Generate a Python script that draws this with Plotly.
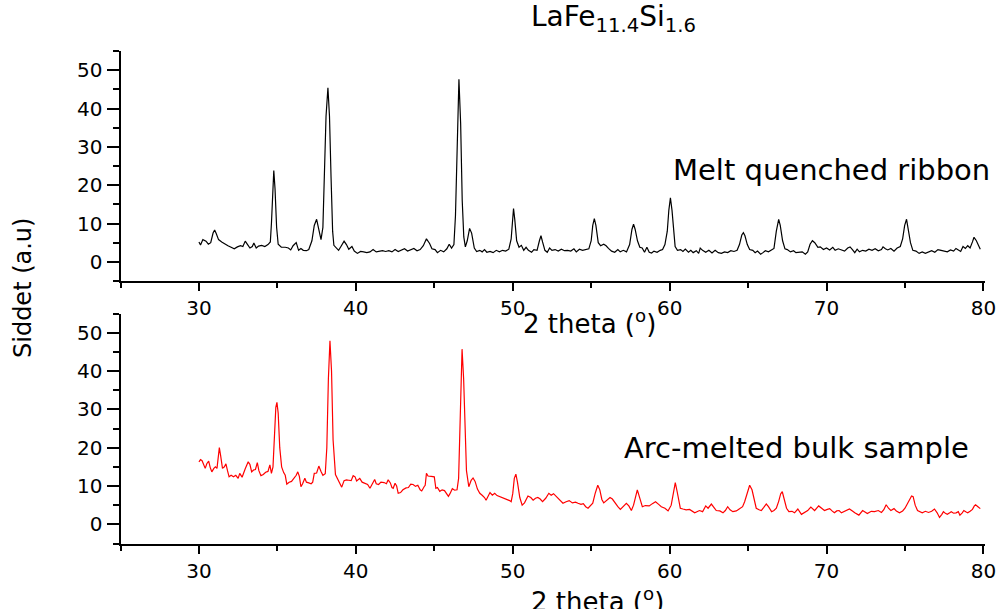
import plotly.graph_objects as go

# ---------------- data ----------------
ribbon_2theta = [
    30.0, 30.1, 30.25, 30.45, 30.6, 30.75, 30.9, 31.0, 31.1, 31.25, 31.45, 31.65, 31.85,
    32.05, 32.25, 32.45, 32.65, 32.8, 32.95, 33.1, 33.25, 33.4, 33.5, 33.65, 33.8, 34.0,
    34.2, 34.4, 34.55, 34.62, 34.7, 34.77, 34.85, 34.95, 35.05, 35.25, 35.5, 35.7, 35.85,
    36.0, 36.2, 36.35, 36.5, 36.65, 36.85, 37.0, 37.2, 37.35, 37.5, 37.62, 37.78, 37.9,
    38.0, 38.1, 38.22, 38.32, 38.42, 38.52, 38.6, 38.75, 38.9, 39.05, 39.25, 39.4, 39.55,
    39.75, 39.9, 40.1, 40.3, 40.5, 40.7, 40.9, 41.1, 41.3, 41.5, 41.7, 41.9, 42.1, 42.3,
    42.5, 42.7, 42.9, 43.1, 43.3, 43.5, 43.7, 43.9, 44.1, 44.3, 44.5, 44.7, 44.85, 45.05,
    45.2, 45.4, 45.6, 45.8, 45.95, 46.1, 46.25, 46.35, 46.46, 46.57, 46.68, 46.78, 46.88,
    46.98, 47.1, 47.25, 47.38, 47.55, 47.7, 47.9, 48.05, 48.2, 48.35, 48.55, 48.75, 48.95,
    49.15, 49.35, 49.55, 49.75, 49.9, 49.98, 50.05, 50.13, 50.25, 50.4, 50.55, 50.7, 50.85,
    51.0, 51.2, 51.35, 51.55, 51.7, 51.8, 51.9, 52.05, 52.2, 52.35, 52.5, 52.7, 52.9, 53.1,
    53.3, 53.5, 53.7, 53.9, 54.05, 54.25, 54.45, 54.65, 54.85, 55.0, 55.1, 55.2, 55.3,
    55.45, 55.6, 55.8, 55.95, 56.1, 56.3, 56.5, 56.7, 56.85, 57.05, 57.25, 57.45, 57.6,
    57.7, 57.8, 57.95, 58.1, 58.25, 58.4, 58.55, 58.7, 58.85, 59.0, 59.2, 59.4, 59.55,
    59.7, 59.85, 59.95, 60.05, 60.15, 60.25, 60.35, 60.5, 60.7, 60.85, 61.0, 61.2, 61.35,
    61.5, 61.7, 61.85, 61.95, 62.1, 62.3, 62.5, 62.7, 62.9, 63.1, 63.3, 63.5, 63.7, 63.9,
    64.1, 64.3, 64.45, 64.6, 64.7, 64.8, 64.95, 65.1, 65.3, 65.45, 65.6, 65.8, 65.95,
    66.1, 66.3, 66.5, 66.65, 66.8, 66.95, 67.05, 67.2, 67.35, 67.5, 67.7, 67.9, 68.05,
    68.25, 68.45, 68.65, 68.8, 68.95, 69.1, 69.25, 69.45, 69.6, 69.8, 70.0, 70.2, 70.4,
    70.55, 70.75, 70.95, 71.15, 71.35, 71.5, 71.65, 71.8, 71.95, 72.1, 72.3, 72.5, 72.7,
    72.9, 73.1, 73.3, 73.5, 73.6, 73.75, 73.9, 74.1, 74.3, 74.5, 74.7, 74.85, 74.98, 75.1,
    75.22, 75.35, 75.5, 75.7, 75.9, 76.1, 76.3, 76.5, 76.7, 76.9, 77.1, 77.3, 77.5, 77.7,
    77.9, 78.1, 78.25, 78.4, 78.55, 78.7, 78.85, 79.0, 79.15, 79.3, 79.4, 79.55, 79.65,
    79.8,
]
ribbon_intensity = [
    5.2, 4.4, 5.8, 5.4, 4.6, 5.0, 7.5, 8.3, 7.4, 5.8, 5.2, 4.6, 4.2,
    3.8, 3.4, 3.9, 4.2, 4.0, 5.4, 4.5, 3.6, 4.0, 4.9, 3.6, 4.1, 4.3,
    4.0, 4.5, 5.2, 10.0, 19.5, 23.8, 19.0, 9.0, 4.6, 3.8, 3.8, 3.6, 3.1,
    4.2, 5.0, 3.0, 3.5, 3.0, 2.9, 3.2, 5.5, 9.5, 11.1, 9.0, 5.8, 9.0,
    22.0, 38.0, 45.4, 38.0, 22.0, 8.0, 4.3, 3.6, 3.0, 4.0, 5.4, 4.5, 3.3,
    4.0, 2.8, 2.2, 2.7, 2.6, 2.4, 2.6, 3.2, 2.6, 2.8, 2.9, 2.7, 2.9, 2.6,
    3.2, 2.7, 3.0, 3.4, 2.8, 3.1, 3.5, 2.9, 3.2, 4.2, 6.0, 4.8, 3.4, 3.2,
    2.4, 3.0, 2.6, 3.4, 4.6, 3.6, 4.5, 12.0, 34.0, 47.6, 36.0, 16.0, 6.5,
    3.9, 5.5, 8.7, 7.5, 3.6, 2.7, 3.0, 2.6, 3.2, 2.5, 2.7, 2.4, 3.0,
    2.6, 3.0, 2.8, 3.3, 6.0, 11.5, 13.9, 11.0, 5.5, 3.8, 4.3, 3.0, 3.8,
    3.0, 2.5, 3.2, 3.0, 5.5, 6.8, 5.2, 3.0, 2.5, 3.6, 3.0, 3.2, 2.8, 3.3,
    2.9, 3.0, 2.8, 3.4, 2.6, 3.3, 3.0, 3.2, 3.4, 5.5, 9.5, 11.3, 9.5,
    5.0, 4.2, 4.6, 4.2, 3.5, 2.8, 2.5, 3.2, 2.6, 3.0, 2.6, 4.5, 8.5,
    9.8, 8.5, 5.5, 3.8, 3.6, 2.5, 3.8, 2.5, 2.3, 2.8, 2.5, 3.0, 3.2,
    4.5, 8.0, 13.5, 16.7, 13.5, 8.0, 4.0, 3.0, 3.2, 2.7, 3.3, 2.5, 3.0,
    2.4, 2.9, 2.2, 3.6, 3.0, 2.5, 3.0, 2.3, 3.0, 2.4, 2.2, 2.6, 2.4, 2.9,
    2.7, 3.0, 4.5, 7.0, 7.6, 6.8, 4.5, 3.2, 3.0, 2.4, 2.8, 2.0, 2.4,
    2.9, 2.6, 3.0, 3.5, 8.0, 11.1, 9.5, 5.5, 3.4, 3.2, 2.6, 2.9, 2.4,
    2.5, 2.6, 2.0, 2.6, 4.6, 5.5, 5.0, 3.8, 3.9, 3.2, 3.6, 3.1, 3.8,
    3.0, 3.4, 3.1, 2.8, 3.6, 3.9, 3.2, 2.4, 3.3, 2.6, 3.0, 2.8, 3.3,
    3.0, 3.4, 2.9, 3.2, 3.9, 3.4, 3.1, 3.5, 2.8, 3.6, 4.0, 6.0, 9.5, 11.1,
    8.5, 5.0, 3.0, 2.8, 2.2, 2.6, 2.2, 2.5, 2.9, 2.5, 3.2, 3.0, 2.8, 2.6,
    3.1, 2.8, 3.5, 3.0, 2.7, 4.0, 3.5, 4.2, 3.6, 5.2, 6.4, 5.5, 4.5,
    3.3,
]

bulk_2theta = [
    30.0, 30.1, 30.2, 30.3, 30.4, 30.5, 30.62, 30.72, 30.82, 30.95, 31.05, 31.15, 31.22,
    31.3, 31.38, 31.5, 31.62, 31.72, 31.82, 31.92, 32.05, 32.2, 32.35, 32.5, 32.6, 32.75,
    32.95, 33.14, 33.25, 33.36, 33.5, 33.6, 33.72, 33.82, 33.95, 34.1, 34.25, 34.4, 34.52,
    34.62, 34.72, 34.82, 34.9, 34.97, 35.05, 35.15, 35.27, 35.4, 35.5, 35.6, 35.75, 35.9,
    36.05, 36.2, 36.3, 36.4, 36.5, 36.6, 36.75, 36.85, 37.0, 37.15, 37.25, 37.35, 37.5,
    37.64, 37.78, 37.9, 38.05, 38.15, 38.25, 38.35, 38.45, 38.55, 38.7, 38.87, 39.0, 39.1,
    39.25, 39.4, 39.55, 39.7, 39.83, 39.95, 40.05, 40.15, 40.25, 40.4, 40.55, 40.75, 40.9,
    41.05, 41.2, 41.3, 41.45, 41.6, 41.8, 41.95, 42.06, 42.2, 42.3, 42.38, 42.5, 42.6, 42.7,
    42.85, 43.0, 43.2, 43.35, 43.5, 43.65, 43.8, 43.95, 44.1, 44.2, 44.35, 44.42, 44.5,
    44.6, 44.8, 45.0, 45.1, 45.2, 45.35, 45.5, 45.65, 45.8, 45.9, 46.0, 46.15, 46.3, 46.45,
    46.55, 46.65, 46.77, 46.87, 46.97, 47.05, 47.2, 47.35, 47.47, 47.6, 47.75, 47.9, 48.05,
    48.2, 48.3, 48.45, 48.55, 48.7, 48.85, 49.0, 49.2, 49.4, 49.6, 49.8, 49.9, 50.0, 50.1,
    50.2, 50.3, 50.45, 50.6, 50.75, 50.97, 51.15, 51.3, 51.45, 51.6, 51.75, 51.9, 52.1,
    52.3, 52.45, 52.6, 52.8, 53.0, 53.2, 53.4, 53.6, 53.8, 54.0, 54.16, 54.35, 54.5, 54.65,
    54.8, 54.95, 55.1, 55.25, 55.42, 55.55, 55.68, 55.8, 56.0, 56.2, 56.35, 56.5, 56.7,
    56.86, 57.05, 57.24, 57.4, 57.56, 57.7, 57.85, 57.94, 58.05, 58.26, 58.45, 58.7, 58.9,
    59.1, 59.3, 59.47, 59.7, 59.9, 60.1, 60.25, 60.36, 60.48, 60.68, 60.85, 61.05, 61.27,
    61.45, 61.6, 61.9, 62.1, 62.3, 62.45, 62.66, 62.8, 62.97, 63.2, 63.4, 63.55, 63.7,
    63.85, 64.03, 64.25, 64.46, 64.65, 64.78, 64.95, 65.1, 65.25, 65.4, 65.52, 65.7, 65.84,
    66.0, 66.16, 66.3, 66.5, 66.65, 66.8, 66.95, 67.08, 67.18, 67.3, 67.45, 67.6, 67.8,
    67.96, 68.17, 68.4, 68.6, 68.8, 69.0, 69.24, 69.5, 69.7, 69.87, 70.05, 70.2, 70.35,
    70.5, 70.65, 70.8, 70.95, 71.1, 71.3, 71.46, 71.65, 71.8, 72.06, 72.3, 72.45, 72.6,
    72.85, 73.06, 73.3, 73.5, 73.65, 73.8, 73.95, 74.1, 74.3, 74.45, 74.65, 74.85, 75.0,
    75.1, 75.25, 75.42, 75.52, 75.65, 75.8, 76.1, 76.3, 76.5, 76.7, 76.88, 77.05, 77.2,
    77.35, 77.45, 77.6, 77.7, 77.85, 77.95, 78.1, 78.26, 78.4, 78.5, 78.65, 78.75, 78.9,
    79.0, 79.15, 79.3, 79.42, 79.5, 79.65, 79.8,
]
bulk_intensity = [
    16.3, 16.9, 16.6, 15.5, 14.6, 15.8, 16.5, 14.8, 13.7, 14.6, 15.0, 14.6, 17.5,
    20.0, 18.0, 14.6, 15.0, 15.8, 14.0, 12.4, 12.8, 12.4, 12.8, 12.0, 13.3, 12.3,
    14.5, 16.3, 15.6, 13.7, 14.2, 14.3, 16.1, 14.0, 12.7, 13.0, 13.6, 13.8, 15.5,
    13.3, 15.0, 24.0, 30.5, 31.8, 29.0, 20.0, 15.0, 13.5, 12.8, 10.5, 11.0, 11.2,
    12.0, 12.8, 13.7, 12.5, 9.8, 10.5, 12.0, 11.0, 10.8, 10.6, 11.0, 13.3, 13.4,
    15.2, 13.8, 12.8, 13.2, 20.0, 38.0, 47.9, 40.0, 22.0, 13.0, 11.6, 10.2, 9.7,
    11.4, 11.6, 11.5, 11.4, 12.7, 12.4, 11.3, 11.6, 12.0, 11.0, 10.7, 10.4, 9.4,
    10.5, 11.7, 10.6, 10.4, 11.0, 10.9, 10.6, 11.6, 10.8, 9.6, 9.4, 10.7, 10.0, 8.1,
    8.3, 9.0, 9.5, 9.6, 10.5, 10.4, 9.9, 10.2, 9.0, 8.7, 9.8, 10.2, 13.3,
    12.6, 12.5, 12.4, 9.4, 9.6, 8.6, 9.0, 8.8, 8.0, 7.3, 8.0, 9.3, 8.9, 9.0,
    12.0, 30.0, 45.7, 38.0, 22.0, 14.0, 9.8, 11.5, 12.1, 11.2, 9.2, 8.1, 7.6,
    7.0, 6.3, 7.8, 8.3, 7.6, 8.1, 7.5, 7.2, 6.8, 6.6, 6.2, 5.9, 8.0, 12.0,
    13.1, 11.0, 7.0, 5.0, 5.6, 7.4, 7.0, 6.3, 6.8, 7.0, 6.6, 5.9, 6.8,
    8.1, 7.6, 8.0, 7.2, 6.4, 5.5, 5.9, 6.2, 5.6, 5.8, 5.5, 5.2, 5.4, 4.6,
    4.2, 4.8, 5.5, 8.0, 10.2, 9.0, 6.5, 5.6, 6.2, 7.0, 6.6, 5.6, 4.6,
    3.9, 4.6, 5.5, 4.8, 3.6, 5.0, 8.0, 9.0, 7.5, 4.6, 4.9, 4.8, 5.4,
    5.9, 5.2, 4.6, 4.2, 3.5, 5.0, 8.5, 10.9, 8.5, 4.2, 4.0, 3.8, 3.9,
    3.4, 3.0, 3.6, 3.3, 4.8, 4.2, 5.3, 4.6, 3.6, 3.5, 3.0, 3.6, 4.6,
    3.8, 3.3, 3.5, 4.2, 4.6, 5.9, 8.5, 10.2, 9.0, 6.0, 4.2, 3.8, 3.6,
    4.4, 5.3, 4.6, 3.3, 3.6, 4.2, 6.0, 8.0, 8.5, 6.5, 4.2, 3.3, 3.4,
    3.0, 4.0, 2.6, 3.2, 3.6, 4.5, 3.6, 4.8, 4.2, 3.6, 3.9, 4.1, 3.5,
    3.0, 3.5, 3.6, 3.0, 3.3, 3.6, 4.0, 3.5, 3.0, 2.4, 3.6, 3.2, 2.8,
    3.4, 3.3, 3.6, 3.1, 3.8, 5.1, 4.2, 3.6, 4.1, 3.5, 3.0, 3.5, 4.2,
    4.9, 6.0, 7.4, 7.2, 5.0, 3.6, 3.0, 3.4, 3.1, 3.4, 4.0, 3.0, 1.8,
    2.6, 3.3, 2.8, 2.6, 3.0, 3.3, 2.9, 3.0, 3.3, 2.4, 3.0, 3.6, 3.2,
    3.0, 3.4, 3.9, 4.8, 5.1, 4.6, 4.1,
]

title_text = "LaFe<sub>11.4</sub>Si<sub>1.6</sub>"
top_label = "Melt quenched ribbon"
bottom_label = "Arc-melted bulk sample"
x_title = "2 theta (<sup>o</sup>)"
y_title = "Siddet (a.u)"
x_ticks = [30, 40, 50, 60, 70, 80]
y_ticks = [0, 10, 20, 30, 40, 50]

# ---------------- figure ----------------
W, H = 996, 609
FONT = "DejaVu Sans"

def px_x(p):
    return p / W

def px_y(p):
    return 1 - p / H

fig = go.Figure()
fig.add_trace(go.Scatter(x=ribbon_2theta, y=ribbon_intensity, mode="lines",
                         line=dict(color="black", width=1.2), xaxis="x", yaxis="y",
                         showlegend=False, hoverinfo="skip"))
fig.add_trace(go.Scatter(x=bulk_2theta, y=bulk_intensity, mode="lines",
                         line=dict(color="#ff0000", width=1.2), xaxis="x2", yaxis="y2",
                         showlegend=False, hoverinfo="skip"))

tickfont = dict(family=FONT, size=20, color="black")

def xaxis_cfg(anchor):
    return dict(domain=[px_x(120.5), px_x(985)], anchor=anchor, range=[25, 80.1],
                showline=True, linewidth=2, linecolor="black", mirror=False,
                ticks="outside", ticklen=8, tickwidth=2, tickcolor="black",
                tickvals=x_ticks, ticktext=[str(v) for v in x_ticks],
                ticklabeloverflow="allow",
                minor=dict(ticks="outside", ticklen=5, tickwidth=2, tickcolor="black",
                           tickvals=[25, 35, 45, 55, 65, 75]),
                showgrid=False, zeroline=False, tickfont=tickfont, automargin=False)

def yaxis_cfg(anchor, top, bottom):
    return dict(domain=[px_y(bottom), px_y(top)], anchor=anchor, range=[-5, 55],
                showline=True, linewidth=2, linecolor="black", mirror=False,
                ticks="outside", ticklen=12, tickwidth=2, tickcolor="black",
                tickvals=y_ticks, ticktext=[str(v) for v in y_ticks],
                minor=dict(ticks="outside", ticklen=6, tickwidth=2, tickcolor="black",
                           tickvals=[-5, 5, 15, 25, 35, 45, 55]),
                showgrid=False, zeroline=False, tickfont=tickfont, automargin=False)

fig.update_layout(
    width=W, height=H,
    margin=dict(l=0, r=0, t=0, b=0),
    paper_bgcolor="white", plot_bgcolor="white",
    xaxis=xaxis_cfg("y"),
    yaxis=yaxis_cfg("x", 51, 281),
    xaxis2=xaxis_cfg("y2"),
    yaxis2=yaxis_cfg("x2", 313.5, 543.5),
    hovermode=False,
)

ann_font = dict(family=FONT, size=29, color="black")
fig.add_annotation(text=title_text, x=px_x(613), y=px_y(19), xref="paper", yref="paper",
                   xanchor="center", yanchor="middle", showarrow=False,
                   font=dict(family=FONT, size=28, color="black"))
fig.add_annotation(text=top_label, x=px_x(671), y=px_y(170), xref="paper", yref="paper",
                   xanchor="left", yanchor="middle", showarrow=False, font=ann_font)
fig.add_annotation(text=bottom_label, x=px_x(622), y=px_y(448), xref="paper", yref="paper",
                   xanchor="left", yanchor="middle", showarrow=False, font=ann_font)
axis_title_font = dict(family=FONT, size=26, color="black")
fig.add_annotation(text=x_title, x=px_x(589), y=px_y(322), xref="paper", yref="paper",
                   xanchor="center", yanchor="middle", showarrow=False, font=axis_title_font)
fig.add_annotation(text=x_title, x=px_x(597), y=px_y(600), xref="paper", yref="paper",
                   xanchor="center", yanchor="middle", showarrow=False, font=axis_title_font)
fig.add_annotation(text=y_title, x=px_x(23), y=px_y(288), xref="paper", yref="paper",
                   xanchor="center", yanchor="middle", textangle=-90, showarrow=False,
                   font=dict(family=FONT, size=24, color="black"))

fig.write_html(
    "out.html",
    config={"displayModeBar": False},
    post_script="document.body.style.margin='0';document.body.style.padding='0';"
                "document.body.style.overflow='hidden';",
)
